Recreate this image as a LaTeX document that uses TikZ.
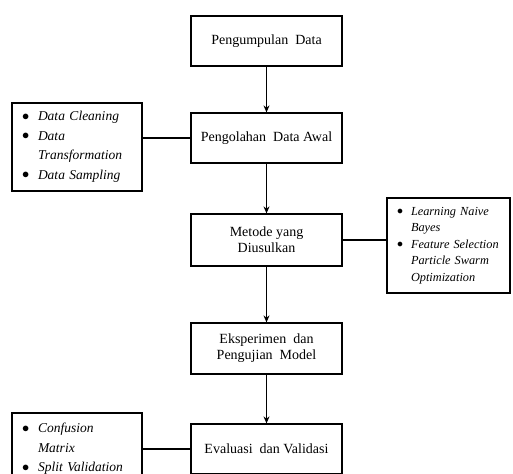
\documentclass[tikz,border=0pt]{standalone}
\usepackage{fontspec}
\setmainfont{Liberation Serif}
\usetikzlibrary{arrows.meta}
\newcommand{\bul}[2][16pt]{\makebox[#1][l]{\raisebox{0.5pt}{$\bullet$}}\textit{#2}}
\newcommand{\cont}[2][16pt]{\hspace*{#1}\textit{#2}}

\begin{document}
\begin{tikzpicture}[x=1pt,y=-1pt, line width=1.2pt, >={Stealth[length=7pt,width=6pt]},
  box/.style={draw, minimum width=151pt, minimum height=50pt, inner sep=0pt,
    align=center, font=\fontsize{14}{16}\selectfont},
  lst/.style={draw, align=left, inner xsep=10pt, inner ysep=0pt}]
  \useasboundingbox (0,0) rectangle (513,473);
  %% main flow
  \node[box] (kumpul) at (266.5,41) {Pengumpulan\ \ Data};
  \node[box] (olah) at (266.5,138) {Pengolahan\ \ Data Awal};
  \node[box, minimum height=52pt] (metode) at (266.5,240) {Metode yang\\Diusulkan};
  \node[box, minimum height=51pt] (uji) at (266.5,348.5) {Eksperimen\ \ dan\\Pengujian\ \ Model};
  \node[box] (eval) at (266.5,449) {Evaluasi\ \ dan Validasi};
  \draw[->] (kumpul) -- (olah);
  \draw[->] (olah) -- (metode);
  \draw[->] (metode) -- (uji);
  \draw[->] (uji) -- (eval);
  %% side notes
  \node[lst, text width=110pt, minimum height=88pt,
    font=\fontsize{13.5}{19.5}\selectfont] (praproses) at (77,147)
    {\bul{Data Cleaning}\\\bul{Data}\\\cont{Transformation}\\\bul{Data Sampling}};
  \node[lst, text width=103pt, minimum height=95pt,
    font=\fontsize{12.3}{16.5}\selectfont] (algoritma) at (448.5,245.5)
    {\bul[14pt]{Learning Naive}\\\cont[14pt]{Bayes}\\\bul[14pt]{Feature Selection}\\\cont[14pt]{Particle Swarm}\\\cont[14pt]{Optimization}};
  \node[lst, text width=110pt, minimum height=88pt,
    font=\fontsize{13.5}{19.5}\selectfont] (validasi) at (77,457)
    {\bul{Confusion}\\\cont{Matrix}\\\bul{Split Validation}\\\mbox{}};
  \draw (olah.west) -- (praproses.east |- olah.west);
  \draw (metode.east) -- (algoritma.west |- metode.east);
  \draw (eval.west) -- (validasi.east |- eval.west);
\end{tikzpicture}
\end{document}
